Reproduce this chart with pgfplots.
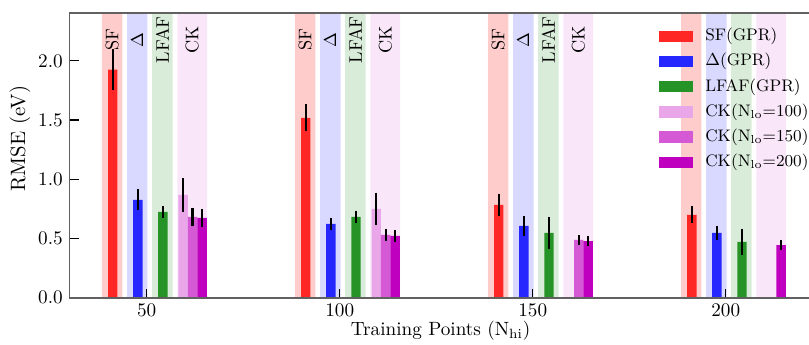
\documentclass[border=0pt]{standalone}
\usepackage{pgfplots}
\pgfplotsset{compat=1.18}
\definecolor{cSF}{HTML}{FF2626}
\definecolor{cD}{HTML}{2626FF}
\definecolor{cL}{HTML}{269326}
\definecolor{cKa}{HTML}{E9A6E9}
\definecolor{cKb}{HTML}{D559D5}
\definecolor{cKc}{HTML}{BF00BF}
\definecolor{bSF}{HTML}{FFCCCC}
\definecolor{bD}{HTML}{D9D9FF}
\definecolor{bL}{HTML}{D9ECD9}
\definecolor{bK}{HTML}{F9E6F9}
\pgfplotsset{
  band/.style={ybar, bar shift=0pt, draw=none, fill=#1, forget plot},
  bars/.style={ybar, bar shift=0pt, bar width=2.43, draw=none, fill=#1,
    error bars/.cd, y dir=both, y explicit, error mark=none,
    error bar style={line width=1.2pt, black}},
}
\newcommand{\glab}{\fontsize{9.5}{11}\selectfont}
\begin{document}
\begin{tikzpicture}
\useasboundingbox (-36.2pt,-24.1pt) rectangle (385.2pt,155.1pt);
\begin{axis}[
  at={(0,0)}, anchor=south west,
  scale only axis, width=386.7pt, height=148.1pt,
  xmin=30, xmax=222.3, ymin=0, ymax=2.4,
  xtick={50,100,150,200}, ytick={0,0.5,1,1.5,2},
  yticklabel style={/pgf/number format/.cd, fixed, fixed zerofill, precision=1},
  xtick pos=bottom, ytick pos=left, tick align=inside,
  major tick length=4.7pt,
  tick style={black, line width=0.6pt},
  axis line style={draw=black!62, line width=1pt},
  axis on top,
  xlabel={Training Points (N$_{\mathrm{hi}}$)},
  xlabel style={yshift=4.5pt},
  ylabel={RMSE (eV)},
  every axis y label/.style={at={(axis description cs:-0.0667,0.56)}, rotate=90, anchor=center, font=\fontsize{10.8}{12}\selectfont},
  legend style={draw=none, fill=none, at={(rel axis cs:0.7939,0.949)}, anchor=north west,
    inner sep=0pt, row sep=4.6pt, column sep=6.5pt,
    nodes={inner sep=0pt, text height=6.5pt, text depth=2pt},
    font=\fontsize{8.7}{10}\selectfont},
  legend cell align=left,
  legend image code/.code={\fill[#1] (0pt,-2.95pt) rectangle (17.5pt,2.95pt);},
]
% background bands
\addplot[band=bSF, bar width=5.3] coordinates {(41.05,3) (91.05,3) (141.05,3) (191.05,3)};
\addplot[band=bD, bar width=5.3] coordinates {(47.55,3) (97.55,3) (147.55,3) (197.55,3)};
\addplot[band=bL, bar width=5.3] coordinates {(54.05,3) (104.05,3) (154.05,3) (204.05,3)};
\addplot[band=bK, bar width=7.7] coordinates {(61.8,3) (111.8,3) (161.8,3) (211.8,3)};
% bars
\addplot[bars=cSF] coordinates {(41.2,1.925) +- (0,0.172) (91.2,1.519) +- (0,0.113) (141.2,0.784) +- (0,0.095) (191.2,0.699) +- (0,0.072)};
\addlegendentry{SF(GPR)}
\addplot[bars=cD] coordinates {(47.7,0.826) +- (0,0.089) (97.7,0.623) +- (0,0.050) (147.7,0.606) +- (0,0.082) (197.7,0.547) +- (0,0.058)};
\addlegendentry{$\Delta$(GPR)}
\addplot[bars=cL] coordinates {(54.2,0.724) +- (0,0.050) (104.2,0.682) +- (0,0.053) (154.2,0.547) +- (0,0.138) (204.2,0.471) +- (0,0.112)};
\addlegendentry{LFAF(GPR)}
\addplot[bars=cKa] coordinates {(59.45,0.868) +- (0,0.142) (109.45,0.750) +- (0,0.137)};
\addlegendentry{CK(N$_{\mathrm{lo}}$=100)}
\addplot[bars=cKb] coordinates {(61.9,0.682) +- (0,0.078) (111.9,0.530) +- (0,0.049) (161.9,0.488) +- (0,0.040)};
\addlegendentry{CK(N$_{\mathrm{lo}}$=150)}
\addplot[bars=cKc] coordinates {(64.35,0.674) +- (0,0.075) (114.35,0.522) +- (0,0.052) (164.35,0.479) +- (0,0.045) (214.35,0.445) +- (0,0.040)};
\addlegendentry{CK(N$_{\mathrm{lo}}$=200)}
% group labels
\node[rotate=90, font=\glab] at (axis cs:41.05,2.178) {SF};
\node[rotate=90, font=\glab] at (axis cs:47.55,2.178) {$\Delta$};
\node[rotate=90, font=\glab] at (axis cs:54.05,2.178) {LFAF};
\node[rotate=90, font=\glab] at (axis cs:61.8,2.178) {CK};
\node[rotate=90, font=\glab] at (axis cs:91.05,2.178) {SF};
\node[rotate=90, font=\glab] at (axis cs:97.55,2.178) {$\Delta$};
\node[rotate=90, font=\glab] at (axis cs:104.05,2.178) {LFAF};
\node[rotate=90, font=\glab] at (axis cs:111.8,2.178) {CK};
\node[rotate=90, font=\glab] at (axis cs:141.05,2.178) {SF};
\node[rotate=90, font=\glab] at (axis cs:147.55,2.178) {$\Delta$};
\node[rotate=90, font=\glab] at (axis cs:154.05,2.178) {LFAF};
\node[rotate=90, font=\glab] at (axis cs:161.8,2.178) {CK};
\end{axis}
\end{tikzpicture}
\end{document}
